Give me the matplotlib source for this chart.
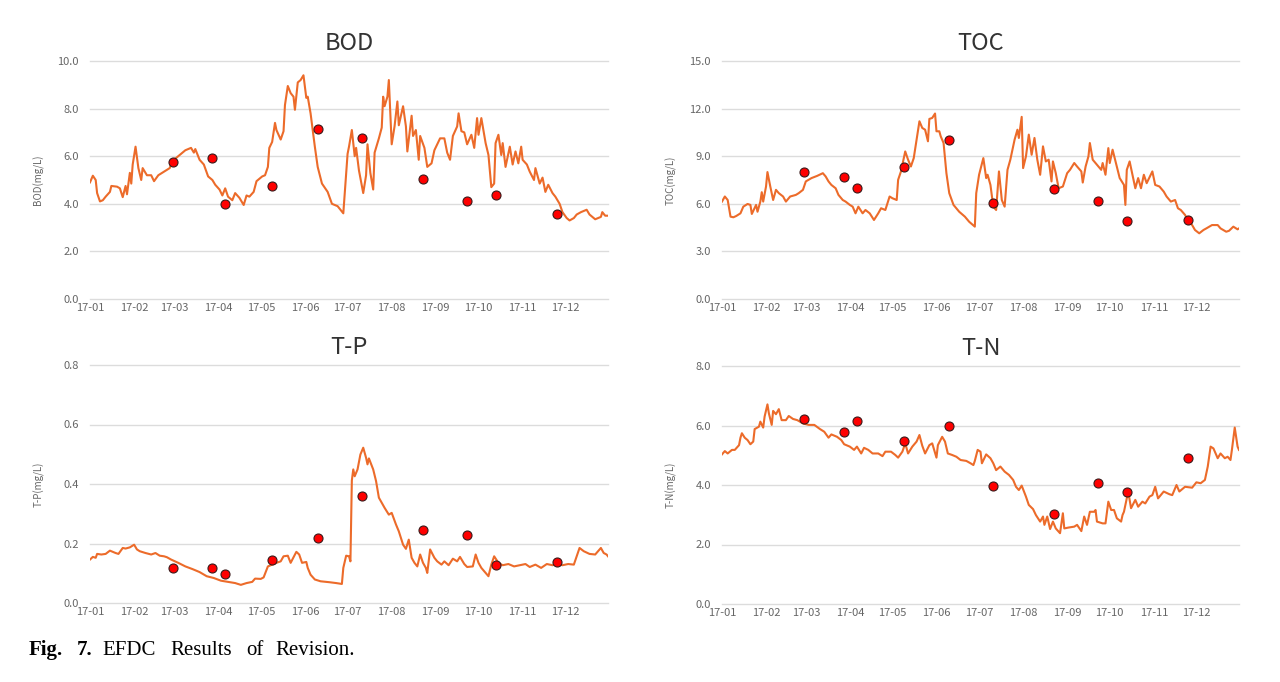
import pandas as pd
import matplotlib
matplotlib.use("Agg")
import matplotlib.pyplot as plt
import matplotlib.dates as mdates

plt.rcParams['font.family'] = ['Noto Sans CJK KR', 'DejaVu Sans']

# observation dates (red dots), same for every panel
obs_dates = ["2017-02-28", "2017-03-28", "2017-04-06", "2017-05-09", "2017-06-10",
             "2017-07-11", "2017-08-23", "2017-09-23", "2017-10-13", "2017-11-25"]

bod_obs = [5.75, 5.92, 4.0, 4.73, 7.16, 6.77, 5.05, 4.12, 4.39, 3.56]
toc_obs = [8.0, 7.68, 6.98, 8.31, 10.04, 6.03, 6.92, 6.18, 4.92, 4.98]
tp_obs = [0.116, 0.116, 0.099, 0.143, 0.22, 0.359, 0.244, 0.228, 0.127, 0.137]
tn_obs = [6.22, 5.79, 6.14, 5.48, 5.99, 3.97, 3.01, 4.08, 3.75, 4.91]

# simulated series: day of year (0 = Jan 1) and value
bod_day = [0, 2, 4, 5, 7, 9, 11, 14, 15, 19,
           21, 23, 25, 26, 28, 29, 30, 32, 34, 36,
           37, 40, 43, 45, 48, 52, 56, 58, 63, 67,
           71, 73, 74, 77, 80, 83, 86, 88, 91, 93,
           95, 97, 100, 102, 105, 108, 110, 112, 115, 117,
           121, 123, 125, 126, 128, 130, 131, 134, 136, 137,
           139, 141, 143, 144, 146, 148, 150, 152, 153, 155,
           158, 160, 163, 167, 170, 174, 178, 181, 182, 184,
           186, 187, 189, 192, 194, 195, 197, 199, 200, 203,
           205, 206, 207, 209, 210, 212, 214, 216, 217, 220,
           222, 223, 226, 227, 229, 231, 232, 235, 237, 240,
           242, 246, 249, 251, 253, 255, 258, 259, 261, 263,
           265, 268, 270, 272, 273, 275, 278, 280, 282, 284,
           285, 287, 289, 290, 292, 295, 297, 299, 301, 303,
           304, 307, 309, 312, 313, 316, 318, 320, 322, 325,
           327, 330, 332, 335, 337, 340, 342, 345, 349, 351,
           355, 359, 360, 362, 364]
bod_sim = [4.9, 5.18, 5.0, 4.45, 4.1, 4.15, 4.3, 4.5, 4.75, 4.72,
           4.65, 4.28, 4.75, 4.4, 5.3, 4.85, 5.65, 6.4, 5.5, 5.0,
           5.5, 5.2, 5.2, 4.95, 5.2, 5.35, 5.5, 5.8, 6.05, 6.25,
           6.35, 6.15, 6.3, 5.85, 5.65, 5.15, 5.0, 4.8, 4.6, 4.35,
           4.65, 4.3, 4.15, 4.45, 4.25, 3.95, 4.35, 4.3, 4.5, 4.95,
           5.15, 5.2, 5.55, 6.35, 6.6, 7.4, 7.1, 6.7, 7.05, 8.15,
           8.95, 8.65, 8.5, 7.95, 9.1, 9.2, 9.4, 8.45, 8.5, 7.8,
           6.4, 5.55, 4.85, 4.5, 4.0, 3.9, 3.6, 6.1, 6.4, 7.1,
           6.0, 6.35, 5.4, 4.45, 5.2, 6.5, 5.3, 4.6, 6.15, 6.75,
           7.2, 8.5, 8.1, 8.5, 9.2, 6.5, 7.25, 8.3, 7.3, 8.1,
           7.25, 6.2, 7.7, 6.85, 7.1, 5.85, 6.85, 6.35, 5.55, 5.7,
           6.25, 6.75, 6.75, 6.15, 5.85, 6.85, 7.25, 7.8, 7.05, 7.0,
           6.5, 6.9, 6.35, 7.6, 6.9, 7.6, 6.55, 6.05, 4.7, 4.85,
           6.55, 6.9, 6.05, 6.55, 5.55, 6.4, 5.65, 6.2, 5.7, 6.4,
           5.85, 5.65, 5.35, 5.0, 5.5, 4.85, 5.1, 4.5, 4.8, 4.45,
           4.3, 4.0, 3.65, 3.4, 3.3, 3.4, 3.55, 3.65, 3.75, 3.55,
           3.35, 3.45, 3.65, 3.5, 3.5]

toc_day = [0, 2, 4, 6, 8, 10, 13, 15, 18, 20,
           21, 24, 25, 27, 28, 29, 31, 32, 34, 36,
           38, 40, 43, 45, 48, 52, 54, 57, 59, 63,
           67, 71, 73, 75, 77, 80, 82, 85, 87, 90,
           92, 94, 96, 99, 101, 104, 107, 110, 112, 115,
           118, 120, 123, 124, 126, 129, 131, 133, 135, 137,
           139, 141, 143, 145, 146, 148, 150, 151, 153, 154,
           156, 158, 160, 163, 167, 171, 174, 178, 179, 181,
           184, 186, 187, 189, 191, 193, 195, 197, 199, 201,
           203, 206, 208, 209, 211, 212, 214, 216, 218, 220,
           222, 224, 226, 228, 230, 232, 233, 235, 237, 240,
           243, 245, 248, 250, 253, 254, 256, 258, 259, 261,
           264, 267, 268, 270, 272, 273, 275, 278, 280, 283,
           284, 285, 287, 289, 291, 293, 295, 297, 299, 303,
           305, 308, 311, 313, 316, 319, 321, 323, 326, 328,
           331, 333, 336, 339, 341, 345, 349, 351, 355, 357,
           360, 363, 364]
toc_sim = [6.14, 6.46, 6.24, 5.19, 5.15, 5.23, 5.4, 5.82, 5.99, 5.93,
           5.36, 5.93, 5.5, 6.14, 6.73, 6.14, 7.09, 8.0, 7.09, 6.24,
           6.88, 6.67, 6.46, 6.14, 6.46, 6.56, 6.67, 6.88, 7.41, 7.62,
           7.76, 7.93, 7.72, 7.41, 7.19, 6.98, 6.56, 6.24, 6.14, 5.93,
           5.82, 5.4, 5.82, 5.4, 5.61, 5.4, 4.98, 5.4, 5.72, 5.61,
           6.46, 6.35, 6.24, 7.51, 8.04, 9.3, 8.78, 8.35, 8.88, 10.04,
           11.2, 10.78, 10.67, 9.94, 11.35, 11.41, 11.69, 10.57, 10.57, 10.25,
           9.83, 7.93, 6.67, 5.93, 5.5, 5.19, 4.87, 4.56, 6.67, 7.83,
           8.88, 7.62, 7.83, 7.19, 5.82, 5.61, 8.04, 6.24, 5.82, 8.14,
           8.78, 10.04, 10.67, 10.15, 11.48, 8.25, 8.99, 10.36, 9.09, 10.15,
           8.78, 7.83, 9.62, 8.67, 8.78, 7.41, 8.67, 7.93, 6.98, 7.09,
           7.93, 8.14, 8.57, 8.35, 8.04, 7.34, 8.35, 8.99, 9.83, 8.78,
           8.46, 8.14, 8.57, 7.83, 9.51, 8.57, 9.41, 8.35, 7.62, 7.19,
           5.93, 8.14, 8.67, 7.83, 6.98, 7.62, 6.98, 7.83, 7.3, 8.04,
           7.19, 7.09, 6.77, 6.46, 6.14, 6.24, 5.72, 5.61, 5.3, 4.98,
           4.66, 4.35, 4.14, 4.35, 4.45, 4.66, 4.66, 4.45, 4.24, 4.3,
           4.56, 4.39, 4.45]

tp_day = [0, 2, 4, 5, 8, 11, 14, 18, 20, 23,
          25, 28, 31, 33, 35, 39, 43, 46, 49, 52,
          54, 57, 62, 67, 72, 77, 82, 87, 92, 97,
          102, 106, 110, 114, 116, 120, 122, 125, 129, 131,
          134, 136, 139, 141, 145, 147, 149, 152, 153, 155,
          158, 162, 168, 173, 177, 178, 180, 182, 183, 184,
          185, 186, 188, 190, 192, 194, 195, 196, 199, 201,
          203, 207, 210, 212, 215, 217, 220, 222, 224, 226,
          228, 230, 232, 234, 236, 237, 239, 242, 244, 247,
          249, 252, 255, 258, 260, 263, 265, 269, 271, 273,
          275, 278, 280, 282, 284, 287, 290, 294, 298, 302,
          306, 309, 313, 317, 321, 325, 328, 332, 336, 340,
          342, 344, 347, 351, 355, 357, 359, 361, 363, 364]
tp_sim = [0.146, 0.155, 0.152, 0.165, 0.163, 0.165, 0.176, 0.168, 0.165, 0.185,
          0.183, 0.187, 0.196, 0.18, 0.174, 0.168, 0.163, 0.168, 0.159, 0.157,
          0.154, 0.146, 0.135, 0.123, 0.114, 0.104, 0.09, 0.084, 0.075, 0.071,
          0.067, 0.061, 0.067, 0.071, 0.082, 0.081, 0.086, 0.123, 0.131, 0.135,
          0.14, 0.157, 0.159, 0.135, 0.172, 0.163, 0.135, 0.138, 0.118, 0.095,
          0.079, 0.073, 0.07, 0.067, 0.064, 0.118, 0.159, 0.157, 0.14, 0.412,
          0.449, 0.426, 0.449, 0.499, 0.522, 0.488, 0.466, 0.486, 0.449, 0.41,
          0.354, 0.32, 0.297, 0.303, 0.264, 0.241, 0.196, 0.182, 0.213, 0.152,
          0.135, 0.123, 0.163, 0.135, 0.118, 0.101, 0.18, 0.152, 0.14, 0.129,
          0.14, 0.127, 0.149, 0.14, 0.155, 0.131, 0.121, 0.123, 0.163, 0.135,
          0.118, 0.101, 0.09, 0.129, 0.157, 0.135, 0.127, 0.131, 0.123, 0.127,
          0.131, 0.121, 0.129, 0.118, 0.131, 0.127, 0.131, 0.127, 0.131, 0.129,
          0.157, 0.185, 0.174, 0.165, 0.163, 0.174, 0.185, 0.168, 0.163, 0.157]

tn_day = [0, 2, 4, 7, 9, 12, 13, 14, 16, 18,
          20, 22, 23, 26, 27, 29, 30, 32, 33, 35,
          36, 38, 40, 42, 45, 47, 50, 53, 57, 61,
          65, 69, 72, 75, 77, 81, 84, 86, 90, 93,
          95, 98, 100, 103, 106, 110, 113, 115, 119, 122,
          124, 127, 129, 131, 134, 137, 139, 141, 143, 146,
          148, 151, 152, 155, 157, 159, 162, 165, 168, 172,
          175, 177, 178, 180, 182, 183, 186, 189, 191, 193,
          196, 199, 202, 205, 207, 209, 211, 214, 216, 219,
          221, 224, 226, 227, 229, 231, 233, 235, 238, 240,
          241, 244, 248, 250, 253, 255, 257, 259, 262, 263,
          264, 268, 270, 272, 274, 276, 278, 281, 282, 283,
          286, 288, 291, 293, 296, 298, 301, 303, 305, 307,
          311, 315, 317, 320, 322, 326, 331, 334, 337, 340,
          342, 344, 346, 349, 351, 354, 356, 358, 359, 361,
          363, 364]
tn_sim = [5.03, 5.14, 5.06, 5.18, 5.18, 5.34, 5.59, 5.74, 5.59, 5.51,
          5.37, 5.46, 5.88, 5.96, 6.13, 5.93, 6.3, 6.71, 6.41, 6.02,
          6.49, 6.38, 6.55, 6.18, 6.18, 6.32, 6.22, 6.18, 6.07, 6.02,
          6.02, 5.88, 5.79, 5.59, 5.7, 5.62, 5.51, 5.37, 5.29, 5.18,
          5.29, 5.06, 5.25, 5.18, 5.06, 5.06, 4.97, 5.12, 5.12, 5.01,
          4.92, 5.12, 5.4, 5.06, 5.29, 5.46, 5.68, 5.32, 5.06, 5.34,
          5.4, 4.92, 5.34, 5.62, 5.46, 5.06, 5.01, 4.95, 4.84, 4.81,
          4.73, 4.67, 4.81, 5.18, 5.12, 4.73, 5.03, 4.9, 4.73, 4.5,
          4.62, 4.45, 4.34, 4.17, 3.94, 3.83, 3.98, 3.61, 3.33, 3.19,
          2.99, 2.77, 2.94, 2.66, 2.94, 2.52, 2.77, 2.54, 2.38, 3.05,
          2.54, 2.57, 2.6, 2.66, 2.45, 2.94, 2.66, 3.1, 3.1, 3.16,
          2.77, 2.71, 2.71, 3.44, 3.16, 3.16, 2.88, 2.77, 2.99, 3.1,
          3.78, 3.22, 3.5, 3.27, 3.44, 3.38, 3.61, 3.66, 3.94, 3.55,
          3.78, 3.69, 3.66, 4.0, 3.78, 3.94, 3.91, 4.09, 4.06, 4.17,
          4.62, 5.29, 5.23, 4.9, 5.06, 4.9, 4.95, 4.84, 5.18, 5.93,
          5.29, 5.18]

titles = ["BOD", "TOC", "T-P", "T-N"]
ylabels = ["BOD(mg/L)", "TOC(mg/L)", "T-P(mg/L)", "T-N(mg/L)"]
yticks = [[0, 2, 4, 6, 8, 10], [0, 3, 6, 9, 12, 15],
          [0, 0.2, 0.4, 0.6, 0.8], [0, 2, 4, 6, 8]]

LINE_C = "#EC6B2A"
GRID_C = "#dcdcdc"
TICK_C = "#666666"

start = pd.Timestamp("2017-01-01")


def to_dates(days):
    return start + pd.to_timedelta(days, unit="D")


W, H = 1280, 682
fig = plt.figure(figsize=(W / 100, H / 100), dpi=100)

# axes boxes in pixels: left, top, right, bottom
boxes = [(90, 61, 608, 299), (722, 61, 1239, 299),
         (90, 365, 608, 603), (722, 366, 1239, 604)]

series = [(bod_day, bod_sim, bod_obs), (toc_day, toc_sim, toc_obs),
          (tp_day, tp_sim, tp_obs), (tn_day, tn_sim, tn_obs)]

obs_x = pd.to_datetime(obs_dates)

for i, (l, t, r, b) in enumerate(boxes):
    ax = fig.add_axes([l / W, (H - b) / H, (r - l) / W, (b - t) / H])
    days, sim, obs = series[i]
    ax.plot(to_dates(days), sim, color=LINE_C, lw=1.5, zorder=3)
    ax.plot(obs_x, obs, "o", ms=6.5, mfc="#FF0000", mec="#3a1a1a", mew=0.8,
            zorder=4, clip_on=False)

    ax.set_xlim(start, pd.Timestamp("2017-12-31"))
    ax.set_ylim(0, yticks[i][-1])
    ax.set_yticks(yticks[i])
    ax.yaxis.set_major_formatter(matplotlib.ticker.FormatStrFormatter("%.1f"))
    ax.xaxis.set_major_locator(mdates.MonthLocator())
    ax.xaxis.set_major_formatter(mdates.DateFormatter("%y-%m"))

    ax.grid(axis="y", color=GRID_C, lw=1.0)
    for gl in ax.get_ygridlines():
        gl.set_clip_on(False)
    ax.set_axisbelow(True)
    for s in ax.spines.values():
        s.set_visible(False)
    ax.tick_params(axis="both", length=0, colors=TICK_C, labelsize=8)
    ax.tick_params(axis="y", pad=8)
    ax.tick_params(axis="x", pad=3)

    ax.set_title(titles[i], fontsize=17, color="#333333", pad=8)
    ax.set_ylabel(ylabels[i], fontsize=7, color=TICK_C)
    ax.yaxis.set_label_coords(-0.088, 0.5)

# caption, word by word like the justified print
words = [("Fig.", 29, "bold"), ("7.", 77, "bold"), ("EFDC", 102, "normal"),
         ("Results", 170, "normal"), ("of", 246, "normal"),
         ("Revision.", 275, "normal")]
for w, x, wt in words:
    fig.text(x / W, (H - 655) / H, w, fontsize=15, fontweight=wt,
             family="Liberation Serif", va="baseline", ha="left")

fig.savefig("out.png", dpi=100, facecolor="white")
